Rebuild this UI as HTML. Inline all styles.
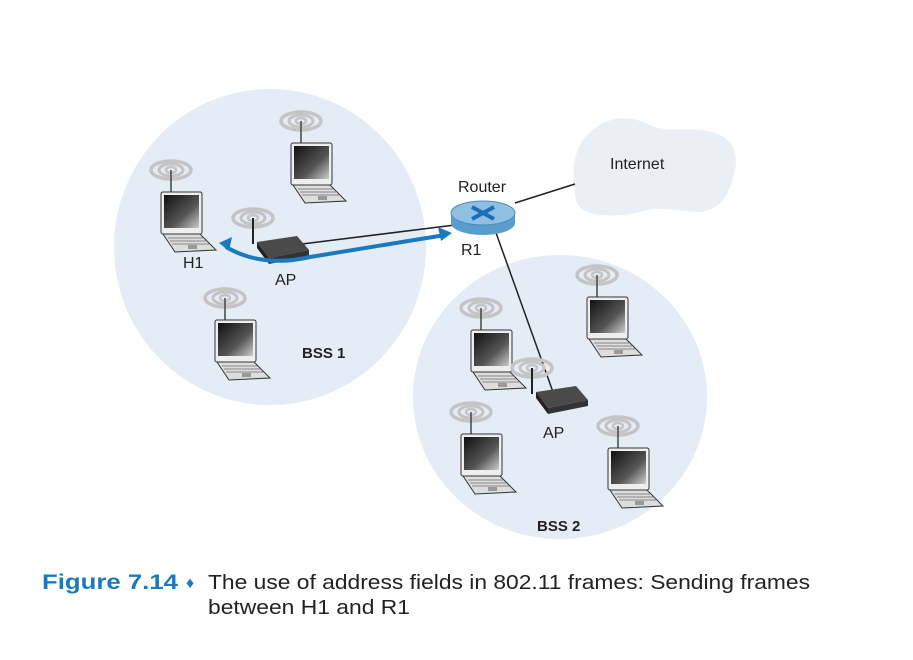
<!DOCTYPE html>
<html><head><meta charset="utf-8"><style>
html,body{margin:0;padding:0;background:#fff;}
svg{display:block;font-family:"Liberation Sans",sans-serif;}
</style></head><body>
<svg width="913" height="660" viewBox="0 0 913 660" xmlns="http://www.w3.org/2000/svg">
<defs>
<linearGradient id="scr" x1="0" y1="0" x2="1" y2="1">
<stop offset="0" stop-color="#111"/><stop offset="0.6" stop-color="#555"/><stop offset="1" stop-color="#ccc"/></linearGradient>
<g id="waves" fill="none" stroke="#c4c4c4">
<ellipse cx="0" cy="0" rx="5" ry="3" stroke-width="2.5"/>
<ellipse cx="0" cy="0" rx="12" ry="6" stroke-width="3"/>
<ellipse cx="0" cy="0" rx="20" ry="9" stroke-width="3.5"/>
</g>
<g id="lap">
<use href="#waves" x="10" y="-22"/>
<line x1="10" y1="-22" x2="10" y2="0" stroke="#444" stroke-width="1.5"/>
<rect x="0" y="0" width="41" height="42" rx="2" fill="#eee" stroke="#333" stroke-width="1"/>
<rect x="3" y="3" width="35" height="33" fill="url(#scr)"/>
<path d="M2,42 L39,42 L55,58 L14,60 Z" fill="#ddd" stroke="#333" stroke-width="1"/>
<path d="M7,46 L42,46 M9,49 L45,49 M11,52 L48,52" stroke="#888" stroke-width="1"/>
<rect x="27" y="53" width="9" height="4" fill="#999"/>
</g>
<g id="ap">
<use href="#waves" x="-8" y="-18"/>
<line x1="-8" y1="-18" x2="-8" y2="8" stroke="#222" stroke-width="2"/>
<path d="M-4,6 L36,0 L48,14 L8,22 Z" fill="#4a4a4a"/>
<path d="M-4,6 L8,22 L8,28 L-4,12 Z" fill="#222"/>
<path d="M8,22 L48,14 L48,20 L8,28 Z" fill="#333"/>
</g>
</defs>
<ellipse cx="270" cy="247" rx="156" ry="158" fill="#e4ecf6"/>
<ellipse cx="560" cy="397" rx="147" ry="142" fill="#e4ecf6"/>
<path d="M583,140 C600,118 625,112 650,125 C665,132 680,128 700,130 C725,132 740,145 735,170 C730,195 720,210 700,212 C680,212 660,205 640,212 C615,218 580,218 576,200 C572,180 572,155 583,140 Z" fill="#e8f0f5"/>
<text x="610" y="169" font-size="16" fill="#222">Internet</text>
<line x1="515" y1="203" x2="575" y2="184" stroke="#222" stroke-width="1.5"/>
<line x1="302" y1="244" x2="455" y2="225" stroke="#222" stroke-width="1.5"/>
<line x1="495" y1="230" x2="553" y2="392" stroke="#222" stroke-width="1.5"/>
<use href="#lap" x="161" y="192"/>
<use href="#lap" x="291" y="143"/>
<use href="#lap" x="215" y="320"/>
<use href="#lap" x="471" y="330"/>
<use href="#lap" x="587" y="297"/>
<use href="#lap" x="461" y="434"/>
<use href="#lap" x="608" y="448"/>
<use href="#ap" x="261" y="236"/>
<use href="#ap" x="540" y="386"/>
<path d="M226,247 Q262,268 310,257 L445,235" fill="none" stroke="#1a7ac0" stroke-width="4"/>
<path d="M219,243 L232,237 L229,251 Z" fill="#1a7ac0"/>
<path d="M452,233 L438,227 L441,241 Z" fill="#1a7ac0"/>
<g>
<path d="M451,213 L451,223 A32,12 0 0 0 515,223 L515,213 Z" fill="#5a9ccc"/>
<ellipse cx="483" cy="213" rx="32" ry="12" fill="#8fc0e4" stroke="#4a8cbc"/>
<path d="M472,207 L494,219 M494,207 L472,219" stroke="#1a6fb5" stroke-width="4"/>
</g>
<text x="458" y="192" font-size="16" fill="#222">Router</text>
<text x="461" y="255" font-size="16" fill="#222">R1</text>
<text x="183" y="268" font-size="16" fill="#222">H1</text>
<text x="275" y="285" font-size="16" fill="#222">AP</text>
<text x="543" y="438" font-size="16" fill="#222">AP</text>
<text x="302" y="358" font-size="15" font-weight="bold" fill="#222">BSS 1</text>
<text x="537" y="531" font-size="15" font-weight="bold" fill="#222">BSS 2</text>
<text x="42" y="589" font-size="21" font-weight="bold" fill="#1a7ac0" textLength="136" lengthAdjust="spacingAndGlyphs">Figure 7.14</text>
<text x="186" y="588" font-size="16" fill="#1a7ac0">♦</text>
<text x="208" y="589" font-size="20" fill="#222" textLength="602" lengthAdjust="spacingAndGlyphs">The use of address fields in 802.11 frames: Sending frames</text>
<text x="208" y="614" font-size="20" fill="#222" textLength="202" lengthAdjust="spacingAndGlyphs">between H1 and R1</text>
</svg>
</body></html>
